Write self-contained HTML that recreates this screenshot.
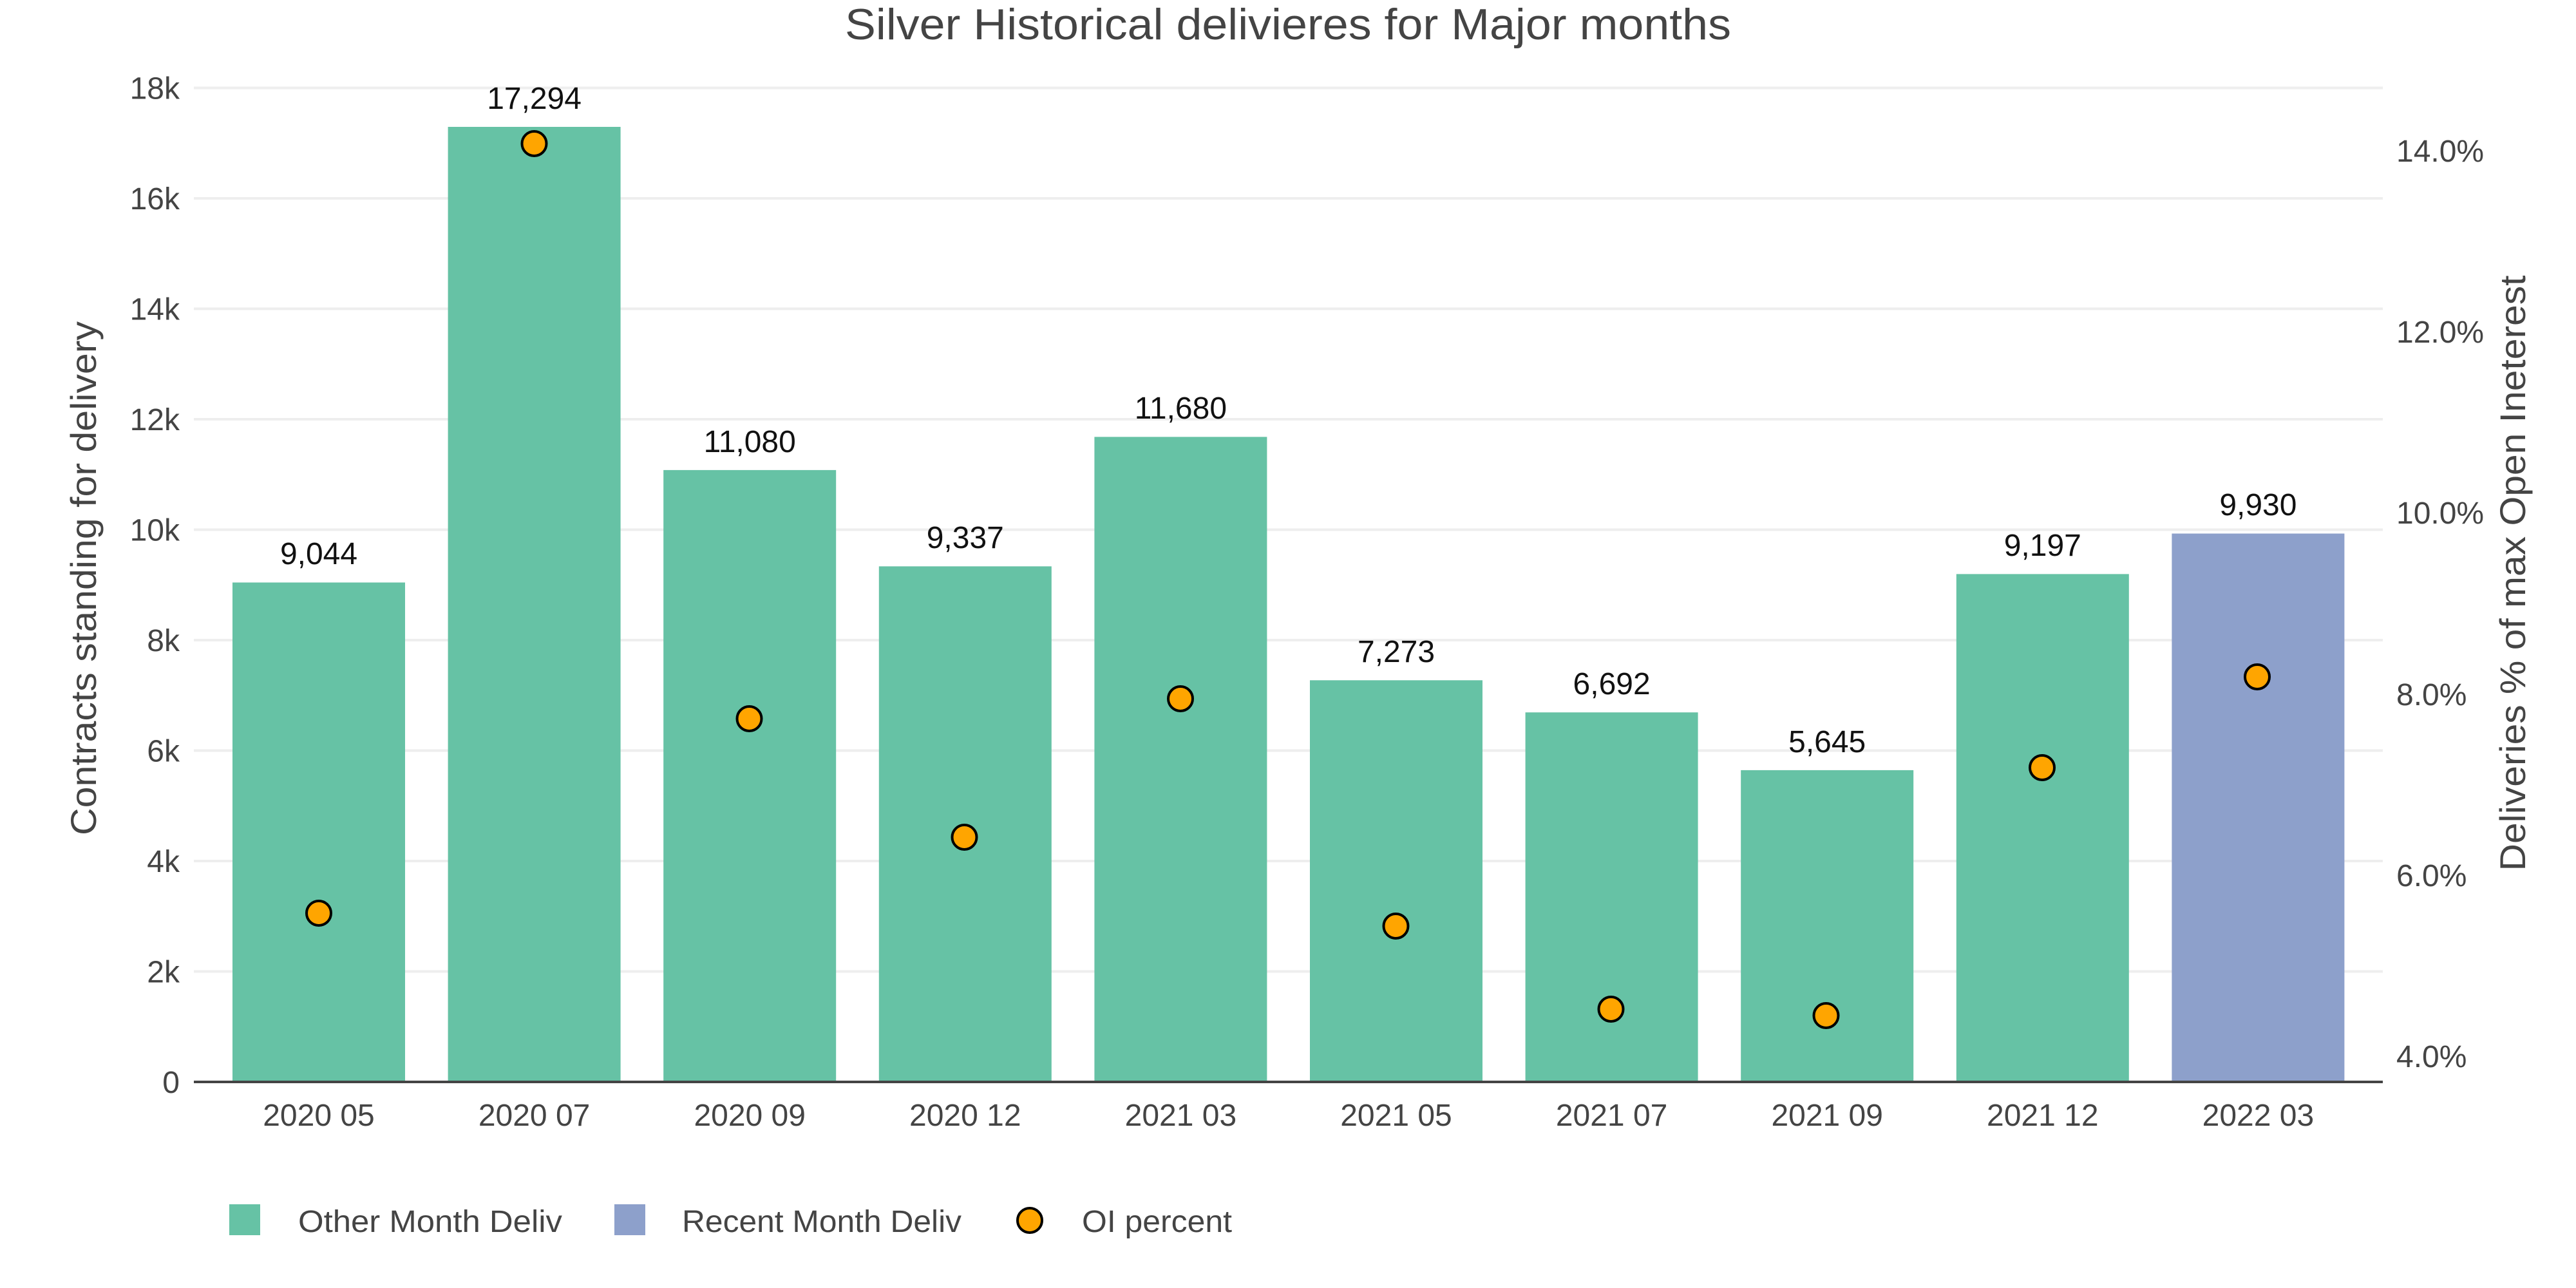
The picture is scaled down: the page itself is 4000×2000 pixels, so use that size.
<!DOCTYPE html>
<html>
<head>
<meta charset="utf-8">
<style>
  html, body { margin: 0; padding: 0; background: #fff; }
  svg { display: block; }
  text { font-family: "Liberation Sans", "DejaVu Sans", sans-serif; }
</style>
</head>
<body>
<svg width="4000" height="2000" viewBox="0 0 4000 2000" xmlns="http://www.w3.org/2000/svg">
  <rect x="0" y="0" width="4000" height="2000" fill="#ffffff"/>

  <!-- Title -->
  <text x="1312" y="61" font-size="68" fill="#444" textLength="1376" lengthAdjust="spacingAndGlyphs">Silver Historical delivieres for Major months</text>

  <!-- Gridlines -->
  <g stroke="#eeeeee" stroke-width="4">
    <line x1="301" y1="1508.5" x2="3700" y2="1508.5"/>
    <line x1="301" y1="1337" x2="3700" y2="1337"/>
    <line x1="301" y1="1165.5" x2="3700" y2="1165.5"/>
    <line x1="301" y1="994" x2="3700" y2="994"/>
    <line x1="301" y1="822.5" x2="3700" y2="822.5"/>
    <line x1="301" y1="651" x2="3700" y2="651"/>
    <line x1="301" y1="479.5" x2="3700" y2="479.5"/>
    <line x1="301" y1="308" x2="3700" y2="308"/>
    <line x1="301" y1="136.5" x2="3700" y2="136.5"/>
  </g>

  <!-- Bars -->
  <g fill="#66c2a5">
    <rect x="361" y="904.5" width="268" height="775.5"/>
    <rect x="695.6" y="197" width="268" height="1483"/>
    <rect x="1030.2" y="729.9" width="268" height="950.1"/>
    <rect x="1364.8" y="879.4" width="268" height="800.6"/>
    <rect x="1699.4" y="678.4" width="268" height="1001.6"/>
    <rect x="2034" y="1056.3" width="268" height="623.7"/>
    <rect x="2368.6" y="1106.2" width="268" height="573.8"/>
    <rect x="2703.2" y="1195.9" width="268" height="484.1"/>
    <rect x="3037.8" y="891.4" width="268" height="788.6"/>
  </g>
  <rect x="3372.4" y="828.5" width="268" height="851.5" fill="#8da0cb"/>

  <!-- Bar labels -->
  <g font-size="48" fill="#111" text-anchor="middle">
    <text x="495" y="876">9,044</text>
    <text x="829.6" y="169">17,294</text>
    <text x="1164.2" y="702">11,080</text>
    <text x="1498.8" y="851">9,337</text>
    <text x="1833.4" y="650">11,680</text>
    <text x="2168" y="1028">7,273</text>
    <text x="2502.6" y="1078">6,692</text>
    <text x="2837.2" y="1168">5,645</text>
    <text x="3171.8" y="863">9,197</text>
    <text x="3506.4" y="800">9,930</text>
  </g>

  <!-- X axis line -->
  <line x1="301" y1="1680" x2="3700" y2="1680" stroke="#444" stroke-width="4"/>

  <!-- Markers -->
  <g fill="#ffa500" stroke="#000" stroke-width="4">
    <circle cx="495" cy="1418" r="19"/>
    <circle cx="829.5" cy="223" r="19"/>
    <circle cx="1163.5" cy="1116" r="19"/>
    <circle cx="1497.5" cy="1300" r="19"/>
    <circle cx="1833" cy="1085" r="19"/>
    <circle cx="2167.5" cy="1438" r="19"/>
    <circle cx="2501.5" cy="1567" r="19"/>
    <circle cx="2835.5" cy="1577" r="19"/>
    <circle cx="3171" cy="1192" r="19"/>
    <circle cx="3505" cy="1051" r="19"/>
  </g>

  <!-- Left tick labels -->
  <g font-size="48" fill="#444" text-anchor="end">
    <text x="279" y="1697">0</text>
    <text x="279" y="1525.5">2k</text>
    <text x="279" y="1354">4k</text>
    <text x="279" y="1182.5">6k</text>
    <text x="279" y="1011">8k</text>
    <text x="279" y="839.5">10k</text>
    <text x="279" y="668">12k</text>
    <text x="279" y="496.5">14k</text>
    <text x="279" y="325">16k</text>
    <text x="279" y="153.5">18k</text>
  </g>

  <!-- Right tick labels -->
  <g font-size="48" fill="#444" text-anchor="start">
    <text x="3721" y="1657">4.0%</text>
    <text x="3721" y="1376">6.0%</text>
    <text x="3721" y="1095">8.0%</text>
    <text x="3721" y="813">10.0%</text>
    <text x="3721" y="532">12.0%</text>
    <text x="3721" y="251">14.0%</text>
  </g>

  <!-- X tick labels -->
  <g font-size="48" fill="#444" text-anchor="middle">
    <text x="495" y="1748">2020 05</text>
    <text x="829.6" y="1748">2020 07</text>
    <text x="1164.2" y="1748">2020 09</text>
    <text x="1498.8" y="1748">2020 12</text>
    <text x="1833.4" y="1748">2021 03</text>
    <text x="2168" y="1748">2021 05</text>
    <text x="2502.6" y="1748">2021 07</text>
    <text x="2837.2" y="1748">2021 09</text>
    <text x="3171.8" y="1748">2021 12</text>
    <text x="3506.4" y="1748">2022 03</text>
  </g>

  <!-- Axis titles -->
  <text transform="translate(149,898) rotate(-90)" font-size="56" fill="#444" text-anchor="middle" textLength="798" lengthAdjust="spacingAndGlyphs">Contracts standing for delivery</text>
  <text transform="translate(3921,890) rotate(-90)" font-size="56" fill="#444" text-anchor="middle" textLength="925" lengthAdjust="spacingAndGlyphs">Deliveries % of max Open Ineterest</text>

  <!-- Legend -->
  <rect x="356" y="1870" width="48" height="48" fill="#66c2a5"/>
  <text x="463" y="1913" font-size="48" fill="#444" textLength="410" lengthAdjust="spacingAndGlyphs">Other Month Deliv</text>
  <rect x="954" y="1870" width="48" height="48" fill="#8da0cb"/>
  <text x="1059" y="1913" font-size="48" fill="#444" textLength="434" lengthAdjust="spacingAndGlyphs">Recent Month Deliv</text>
  <circle cx="1599" cy="1895" r="19" fill="#ffa500" stroke="#000" stroke-width="4"/>
  <text x="1680" y="1913" font-size="48" fill="#444" textLength="233" lengthAdjust="spacingAndGlyphs">OI percent</text>
</svg>
</body>
</html>
